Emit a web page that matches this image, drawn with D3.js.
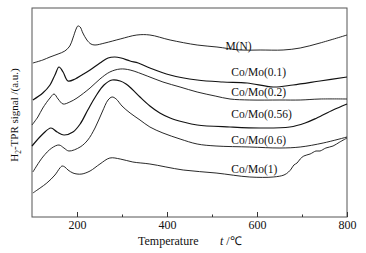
<!DOCTYPE html>
<html>
<head>
<meta charset="utf-8">
<script src="https://cdn.jsdelivr.net/npm/d3@7"></script>
<style>
  body { margin: 0; background: #fff; }
  svg text { font-family: "Liberation Serif", "Times New Roman", serif; fill: #111; }
</style>
</head>
<body>
<div id="chart"></div>
<script>
// temperature (°C) and signal (a.u.), one pair of arrays per sample
const tMN = [102,124,140,158,173,184,191,198,202,207,213,222,231,240,262,296,333,362,407,467,511,562,607,658,696,740,800];
const sMN = [154,157,160,163,166,171,179,188,191,190,184,177,173,172,174,178,182,182,177,172,170,167,167,167,169,174,182];

const t01 = [102,124,140,151,160,169,180,196,211,229,251,269,284,298,318,336,362,407,467,524,578,636,680,740,800];
const s01 = [117,124,132,142,150,145,136,138,142,147,154,159,160,159,156,154,149,142,137,135,134,130,132,136,140];

const t02 = [100,113,124,140,149,158,169,184,200,229,251,273,296,318,356,391,429,467,507,540,584,651,696,740,800];
const s02 = [92,100,109,119,123,118,113,115,119,129,138,145,148,147,141,135,130,125,121,118,117,117,117,118,118];

const t056 = [100,124,142,156,171,191,207,224,242,260,278,296,309,322,340,362,384,407,436,467,540,607,673,707,733,769,800];
const s056 = [71,83,89,85,82,85,93,107,121,132,137,136,133,128,120,111,104,99,95,92,90,89,90,94,99,107,113];

const t06 = [102,124,144,160,171,182,207,224,240,256,269,278,287,300,318,340,362,391,429,467,509,584,651,696,747,800];
const s06 = [45,60,69,72,69,66,70,77,89,105,117,120,118,111,104,97,90,84,78,73,71,70,69,70,74,80];

const t1 = [102,118,133,151,162,167,173,180,191,200,211,229,251,273,296,324,362,436,509,584,636,660,670,676,682,689,696,704,718,731,740,753,769,784,800];
const s1 = [24,29,34,42,49,51,50,47,44,43,43,46,53,59,58,55,53,47,44,40,40,42,45,48,52,54,58,61,63,66,66,69,71,75,79];

const seriesNames = ["M(N)", "Co/Mo(0.1)", "Co/Mo(0.2)", "Co/Mo(0.56)", "Co/Mo(0.6)", "Co/Mo(1)"];
const majorTicks = [200, 400, 600, 800];
const minorTicks = [300, 500, 700];

const series = [
  { name: seriesNames[0], t: tMN, s: sMN },
  { name: seriesNames[1], t: t01, s: s01 },
  { name: seriesNames[2], t: t02, s: s02 },
  { name: seriesNames[3], t: t056, s: s056 },
  { name: seriesNames[4], t: t06, s: s06 },
  { name: seriesNames[5], t: t1, s: s1 }
];

// label placement (temperature, signal at baseline) and line weight
const labelPos = [[530, 167], [543, 141], [543, 121], [543, 99], [543, 73], [543, 44]];
const strokeW = [0.9, 1.2, 0.9, 1.2, 0.9, 0.9];

const W = 366, H = 253;
const margin = { top: 8, right: 19, bottom: 36, left: 32 };
const width = W - margin.left - margin.right;
const height = H - margin.top - margin.bottom;

const svg = d3.select("#chart").append("svg")
    .attr("width", W)
    .attr("height", H);

const g = svg.append("g")
    .attr("transform", `translate(${margin.left},${margin.top})`);

const x = d3.scaleLinear().domain([100, 800]).range([0, width]);
const y = d3.scaleLinear().domain([0, 209]).range([height, 0]);

// frame
g.append("rect")
    .attr("width", width)
    .attr("height", height)
    .attr("fill", "none")
    .attr("stroke", "#555")
    .attr("stroke-width", 1);

// major ticks, pointing inward
const ax = g.append("g")
    .attr("transform", `translate(0,${height})`)
    .call(d3.axisBottom(x).tickValues(majorTicks).tickSizeInner(-5).tickSizeOuter(0).tickPadding(3));
ax.select(".domain").remove();
ax.selectAll("line").attr("stroke", "#333");
ax.selectAll("text")
    .style("font-size", "12px")
    .style("font-family", '"Liberation Serif", serif')
    .attr("fill", "#111");

// minor ticks
const axm = g.append("g")
    .attr("transform", `translate(0,${height})`)
    .call(d3.axisBottom(x).tickValues(minorTicks).tickSize(-2.5).tickFormat(""));
axm.select(".domain").remove();
axm.selectAll("line").attr("stroke", "#333");

const line = d3.line()
    .x(d => x(d[0]))
    .y(d => y(d[1]))
    .curve(d3.curveCatmullRom.alpha(0.5));

series.forEach((sr, i) => {
    const pts = sr.t.map((t, k) => [t, sr.s[k]]);
    g.append("path")
        .datum(pts)
        .attr("fill", "none")
        .attr("stroke", "#111")
        .attr("stroke-width", strokeW[i])
        .attr("d", line);

    g.append("text")
        .attr("x", x(labelPos[i][0]))
        .attr("y", y(labelPos[i][1]))
        .style("font-size", "11.5px")
        .text(sr.name);
});

// x title
const xt = svg.append("text")
    .attr("x", 138)
    .attr("y", 245)
    .style("font-size", "12px");
xt.append("tspan").text("Temperature");
xt.append("tspan").attr("x", 220).style("font-style", "italic").text("t");
xt.append("tspan").text(" /℃");

// y title
const yt = svg.append("text")
    .attr("transform", "translate(18,115) rotate(-90)")
    .attr("text-anchor", "middle")
    .style("font-size", "11px");
yt.append("tspan").text("H");
yt.append("tspan").attr("dy", 3).style("font-size", "7.5px").text("2");
yt.append("tspan").attr("dy", -3).text("-TPR signal /(a.u.)");
</script>
</body>
</html>
